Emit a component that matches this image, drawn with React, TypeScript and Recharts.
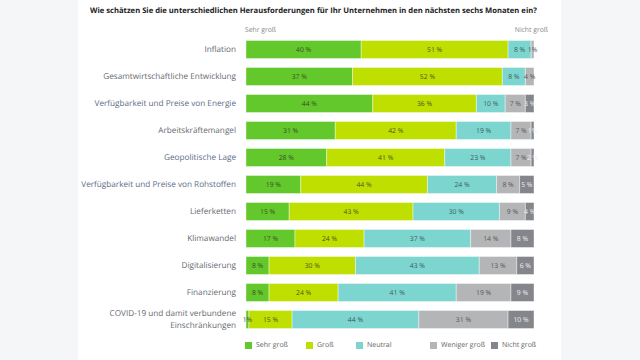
import React from "react";
import { BarChart, Bar, XAxis, YAxis, LabelList } from "recharts";

const categories = [
  "Inflation",
  "Gesamtwirtschaftliche Entwicklung",
  "Verfügbarkeit und Preise von Energie",
  "Arbeitskräftemangel",
  "Geopolitische Lage",
  "Verfügbarkeit und Preise von Rohstoffen",
  "Lieferketten",
  "Klimawandel",
  "Digitalisierung",
  "Finanzierung",
  "COVID-19 und damit verbundene\nEinschränkungen",
];
const sehrGross = [40, 37, 44, 31, 28, 19, 15, 17, 8, 8, 1];
const gross = [51, 52, 36, 42, 41, 44, 43, 24, 30, 24, 15];
const neutral = [8, 8, 10, 19, 23, 24, 30, 37, 43, 41, 44];
const wenigerGross = [1, 4, 7, 7, 7, 8, 9, 14, 13, 19, 31];
const nichtGross = [0, 0, 3, 1, 2, 5, 4, 8, 6, 9, 10];
const highlighted = [
  "Verfügbarkeit und Preise von Energie",
  "Geopolitische Lage",
  "Verfügbarkeit und Preise von Rohstoffen",
];

const data = categories.map((name, i) => ({
  name,
  sehr: sehrGross[i],
  gross: gross[i],
  neutral: neutral[i],
  weniger: wenigerGross[i],
  nicht: nichtGross[i],
}));

const series = [
  { key: "sehr", label: "Sehr groß", color: "#62c82b", text: "#3d4a2a" },
  { key: "gross", label: "Groß", color: "#bfdf00", text: "#4a5420" },
  { key: "neutral", label: "Neutral", color: "#7dd5cf", text: "#3b5a58" },
  { key: "weniger", label: "Weniger groß", color: "#b4b5b7", text: "#555" },
  { key: "nicht", label: "Nicht groß", color: "#85868c", text: "#f0f0f0" },
];

const FONT = "'Open Sans', 'Noto Sans', sans-serif";

const CategoryTick = (props: any) => {
  const { x, y, payload } = props;
  const lines = String(payload.value).split("\n");
  const color = highlighted.includes(payload.value) ? "#5b6d88" : "#666a70";
  const lh = 11.5;
  const startY = y - ((lines.length - 1) * lh) / 2;
  return (
    <text
      x={x}
      y={startY}
      textAnchor="end"
      fontSize={8.2}
      fill={color}
      fontFamily={FONT}
      textRendering="geometricPrecision"
    >
      {lines.map((l, i) => (
        <tspan key={i} x={x} y={startY + i * lh} dy="0.35em">
          {l}
        </tspan>
      ))}
    </text>
  );
};

const legendWidths = [61, 50, 74, 61, 50];

const LegendBlock = () => {
  return (
    <div
      style={{
        position: "absolute",
        left: 167,
        top: 341,
        display: "flex",
        alignItems: "center",
        fontFamily: FONT,
        fontSize: 7,
        color: "#666",
        whiteSpace: "nowrap",
      }}
    >
      {series.map((s, i) => (
        <div key={s.key} style={{ display: "flex", alignItems: "center", width: legendWidths[i] }}>
          <div style={{ width: 7, height: 7, background: s.color, marginRight: 4 }} />
          <span>{s.label}</span>
        </div>
      ))}
    </div>
  );
};

const makeLabel = (textColor: string) => (props: any) => {
  const { x, y, width, height, value } = props;
  if (!value) return null;
  return (
    <text
      x={x + width / 2}
      y={y + height / 2}
      dy="0.35em"
      textAnchor="middle"
      fontSize={6.8}
      fill={textColor}
      fontFamily={FONT}
      textRendering="geometricPrecision"
    >
      {value < 2 ? `${value}%` : `${value} %`}
    </text>
  );
};

export default function App() {
  return (
    <div
      style={{
        position: "fixed",
        left: 0,
        top: 0,
        width: 640,
        height: 360,
        background: "#f4f6f8",
        overflow: "hidden",
        textRendering: "geometricPrecision",
      }}
    >
      <div style={{ position: "absolute", left: 78, top: 0, width: 483, height: 360, background: "#ffffff" }}>
        <div
          style={{
            position: "absolute",
            left: 12,
            top: 6,
            fontFamily: FONT,
            fontWeight: 700,
            fontSize: 7.65,
            color: "#222",
            whiteSpace: "nowrap",
          }}
        >
          Wie schätzen Sie die unterschiedlichen Herausforderungen für Ihr Unternehmen in den nächsten sechs Monaten ein?
        </div>
        <div style={{ position: "absolute", left: 167, top: 25, fontFamily: FONT, fontSize: 6.8, color: "#888" }}>Sehr groß</div>
        <div style={{ position: "absolute", right: 13, top: 25, fontFamily: FONT, fontSize: 6.8, color: "#888" }}>Nicht groß</div>
        <div style={{ position: "absolute", left: 0, top: 0 }}>
          <BarChart
            width={483}
            height={360}
            data={data}
            layout="vertical"
            margin={{ top: 35.5, right: 27, bottom: 27.5, left: 0 }}
            barSize={18}
          >
            <XAxis type="number" domain={[0, 100]} hide allowDataOverflow />
            <YAxis
              type="category"
              dataKey="name"
              width={168}
              axisLine={false}
              tickLine={false}
              tickMargin={4}
              interval={0}
              tick={<CategoryTick />}
            />
            {series.map((s) => (
              <Bar
                key={s.key}
                dataKey={s.key}
                name={s.label}
                stackId="a"
                fill={s.color}
                stroke="#ffffff"
                strokeWidth={0.4}
                isAnimationActive={false}
              >
                <LabelList dataKey={s.key} content={makeLabel(s.text)} />
              </Bar>
            ))}
          </BarChart>
        </div>
        <LegendBlock />
      </div>
    </div>
  );
}
